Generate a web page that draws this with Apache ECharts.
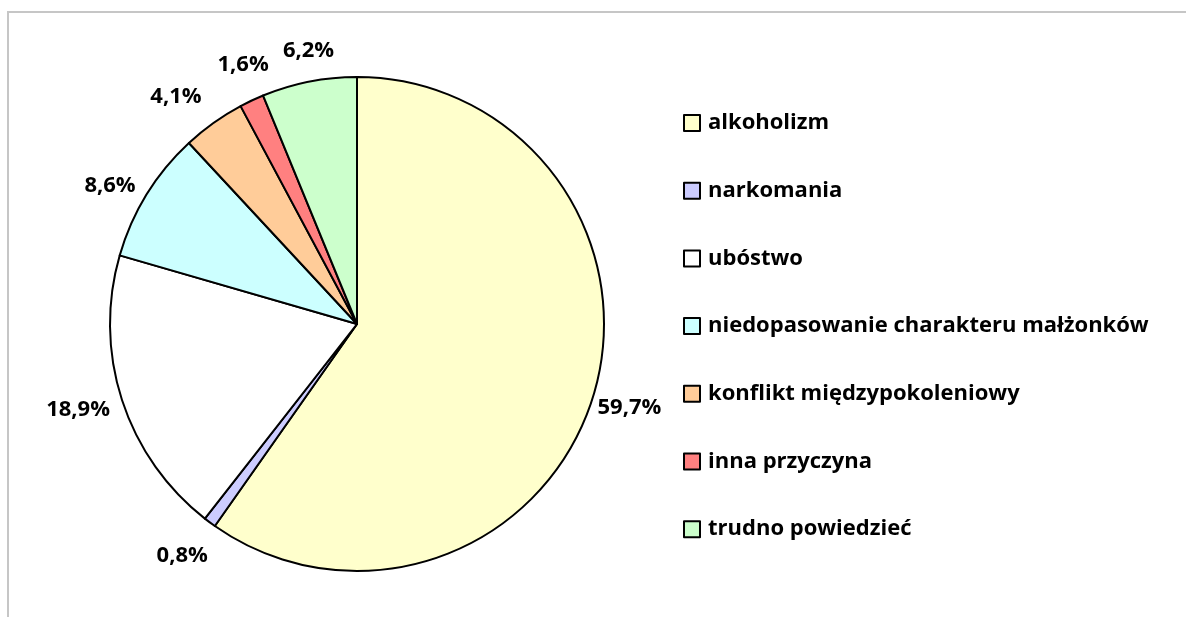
<!DOCTYPE html>
<html><head><meta charset="utf-8">
<script src="https://cdn.jsdelivr.net/npm/echarts@6/dist/echarts.min.js"></script>
<style>html,body{margin:0;padding:0;background:#fff}#c{width:1186px;height:617px}</style>
</head><body><div id="c"></div>
<script>
const categories = ["alkoholizm","narkomania","ubóstwo","niedopasowanie charakteru małżonków","konflikt międzypokoleniowy","inna przyczyna","trudno powiedzieć"];
const values = [59.7, 0.8, 18.9, 8.6, 4.1, 1.6, 6.2];
const colors = ["#FFFFCC","#CCCCFF","#FFFFFF","#CCFFFF","#FFCC99","#FF8080","#CCFFCC"];

const chart = echarts.init(document.getElementById('c'), null, {renderer:'canvas'});
const FONT = '"Open Sans", sans-serif';
// per-label nudges (Excel "best fit" placement)
const nudges = [[0,9],[3,33],[-7,10],[-6,-9],[-7,-26],[22,-36],[30,-31]];
chart.setOption({
  animation:false,
  backgroundColor:'#fff',
  graphic:[{type:'rect', shape:{x:8, y:12, width:1190, height:640}, style:{fill:'none', stroke:'#c6c6c6', lineWidth:2}, silent:true}],
  legend:{
    orient:'vertical', left:683, top:112, icon:'rect', padding:0,
    itemWidth:16, itemHeight:16, itemGap:45.7,
    itemStyle:{borderColor:'#000', borderWidth:2},
    textStyle:{fontFamily:FONT, fontWeight:'bold', fontSize:22, lineHeight:22, color:'#000', padding:[0,0,0,3]},
    data: categories
  },
  series:[{
    type:'pie', center:[357,324], radius:[0,247], startAngle:90, clockwise:true,
    avoidLabelOverlap:false,
    itemStyle:{borderColor:'#000', borderWidth:2},
    label:{show:true, position:'outside', fontFamily:FONT, fontWeight:'bold', fontSize:22, color:'#000',
      formatter: p => p.value.toFixed(1).replace('.', ',') + '%'},
    labelLine:{show:false, length:0, length2:0},
    labelLayout: p => ({dx: nudges[p.dataIndex][0], dy: nudges[p.dataIndex][1]}),
    emphasis:{disabled:true},
    data: categories.map((n,i)=>({name:n, value:values[i], itemStyle:{color:colors[i]}}))
  }]
});
</script></body></html>
